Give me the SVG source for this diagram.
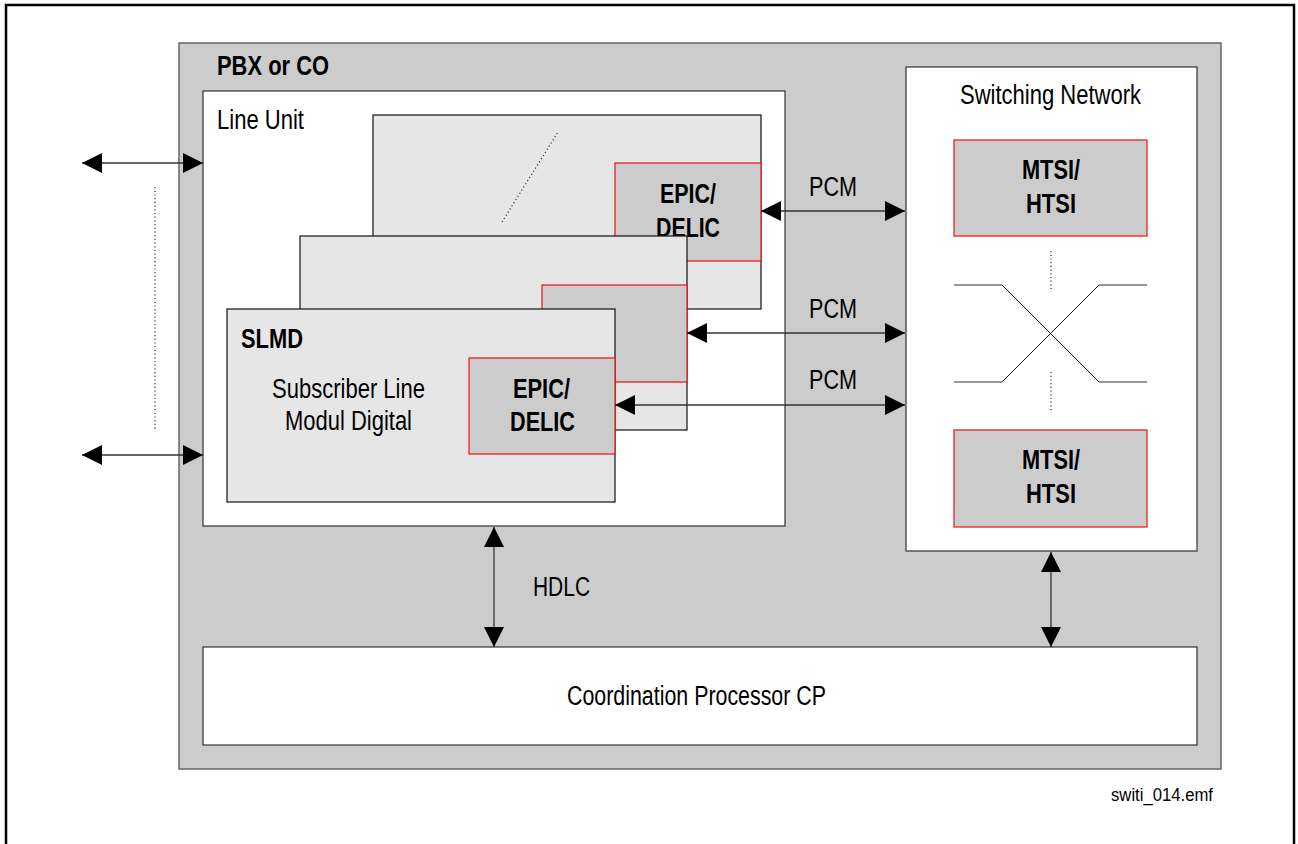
<svg xmlns="http://www.w3.org/2000/svg" width="1298" height="844" viewBox="0 0 1298 844">
<style>
text{font-family:"Liberation Sans",Arial,sans-serif;font-size:27px;fill:#000}
.b{font-weight:bold}
.frame{fill:#fff;stroke:#000;stroke-width:2.5}
.pbx{fill:#cccccc;stroke:#666;stroke-width:1.5}
.white{fill:#fff;stroke:#333;stroke-width:1.2}
.card{fill:#e6e6e6;stroke:#111;stroke-width:1.2}
.chip{fill:#cccccc;stroke:#f01010;stroke-width:1.2}
.con{fill:none;stroke:#333;stroke-width:1.3}
.dot{fill:none;stroke:#333;stroke-width:1.2;stroke-dasharray:1.2 2.5}
.xh{fill:none;stroke:#777;stroke-width:1.5}
.xd{fill:none;stroke:#111;stroke-width:1}
</style>
<defs>
<marker id="ah" markerUnits="userSpaceOnUse" markerWidth="20" markerHeight="20" refX="20" refY="10" orient="auto-start-reverse" viewBox="0 0 20 20">
<path d="M0,0 L20,10 L0,20 z" fill="#000"/>
</marker>
</defs>
<rect class="frame" x="6" y="5" width="1288" height="900"/>
<g id="pbx">
<rect class="pbx" x="179" y="43" width="1042" height="726"/>
<text class="b" x="217" y="75" textLength="112" lengthAdjust="spacingAndGlyphs">PBX or CO</text>
</g>
<g id="line-unit">
<rect class="white" x="203" y="91" width="582" height="435"/>
<text x="217" y="129" textLength="87" lengthAdjust="spacingAndGlyphs">Line Unit</text>
</g>
<g id="card-back">
<rect class="card" x="373" y="115" width="388" height="194"/>
<path class="dot" d="M502,222 L558,132"/>
<rect class="chip" x="615" y="163" width="146" height="98"/>
<text class="b" x="660" y="203" textLength="56" lengthAdjust="spacingAndGlyphs">EPIC/</text>
<text class="b" x="656" y="237" textLength="64" lengthAdjust="spacingAndGlyphs">DELIC</text>
</g>
<g id="card-middle">
<rect class="card" x="300" y="236" width="387" height="194"/>
<rect class="chip" x="542" y="285" width="145" height="97"/>
</g>
<g id="slmd">
<rect class="card" x="227" y="309" width="388" height="193"/>
<text class="b" x="241" y="348" textLength="62" lengthAdjust="spacingAndGlyphs">SLMD</text>
<text x="272" y="398" textLength="153" lengthAdjust="spacingAndGlyphs">Subscriber Line</text>
<text x="285" y="430" textLength="127" lengthAdjust="spacingAndGlyphs">Modul Digital</text>
</g>
<g id="epic-front">
<rect class="chip" x="469" y="358" width="146" height="96"/>
<text class="b" x="513" y="398" textLength="57" lengthAdjust="spacingAndGlyphs">EPIC/</text>
<text class="b" x="510" y="431" textLength="65" lengthAdjust="spacingAndGlyphs">DELIC</text>
</g>
<g id="switching-network">
<rect class="white" x="906" y="67" width="291" height="484"/>
<text x="960" y="104" textLength="181" lengthAdjust="spacingAndGlyphs">Switching Network</text>
<path class="xh" d="M954,285 H1002 M1099,285 H1147 M954,382 H1002 M1099,382 H1147"/>
<path class="xd" d="M1002,285 L1099,382 M1002,382 L1099,285"/>
<path class="dot" d="M1051,251 V292 M1051,372 V413"/>
</g>
<g id="mtsi-top">
<rect class="chip" x="954" y="140" width="193" height="96"/>
<text class="b" x="1022" y="179" textLength="58" lengthAdjust="spacingAndGlyphs">MTSI/</text>
<text class="b" x="1026" y="213" textLength="50" lengthAdjust="spacingAndGlyphs">HTSI</text>
</g>
<g id="mtsi-bottom">
<rect class="chip" x="954" y="430" width="193" height="97"/>
<text class="b" x="1022" y="469" textLength="58" lengthAdjust="spacingAndGlyphs">MTSI/</text>
<text class="b" x="1026" y="503" textLength="50" lengthAdjust="spacingAndGlyphs">HTSI</text>
</g>
<g id="cp">
<rect class="white" x="203" y="647" width="994" height="98"/>
<text x="567" y="705" textLength="259" lengthAdjust="spacingAndGlyphs">Coordination Processor CP</text>
</g>
<g id="connectors">
<path class="con" d="M82,163 H203" marker-start="url(#ah)" marker-end="url(#ah)"/>
<path class="con" d="M82,455 H203" marker-start="url(#ah)" marker-end="url(#ah)"/>
<path class="dot" d="M155,187 V430"/>
<path class="con" d="M761,211 H905" marker-start="url(#ah)" marker-end="url(#ah)"/>
<path class="con" d="M687,333 H905" marker-start="url(#ah)" marker-end="url(#ah)"/>
<path class="con" d="M615,405 H905" marker-start="url(#ah)" marker-end="url(#ah)"/>
<path class="con" d="M494,527 V647" marker-start="url(#ah)" marker-end="url(#ah)"/>
<path class="con" d="M1051,552 V647" marker-start="url(#ah)" marker-end="url(#ah)"/>
<text x="809" y="196" textLength="48" lengthAdjust="spacingAndGlyphs">PCM</text>
<text x="809" y="318" textLength="48" lengthAdjust="spacingAndGlyphs">PCM</text>
<text x="809" y="389" textLength="48" lengthAdjust="spacingAndGlyphs">PCM</text>
<text x="533" y="596" textLength="57" lengthAdjust="spacingAndGlyphs">HDLC</text>
</g>
<text x="1111" y="801" style="font-size:18px" textLength="102" lengthAdjust="spacingAndGlyphs">switi_014.emf</text>
</svg>
